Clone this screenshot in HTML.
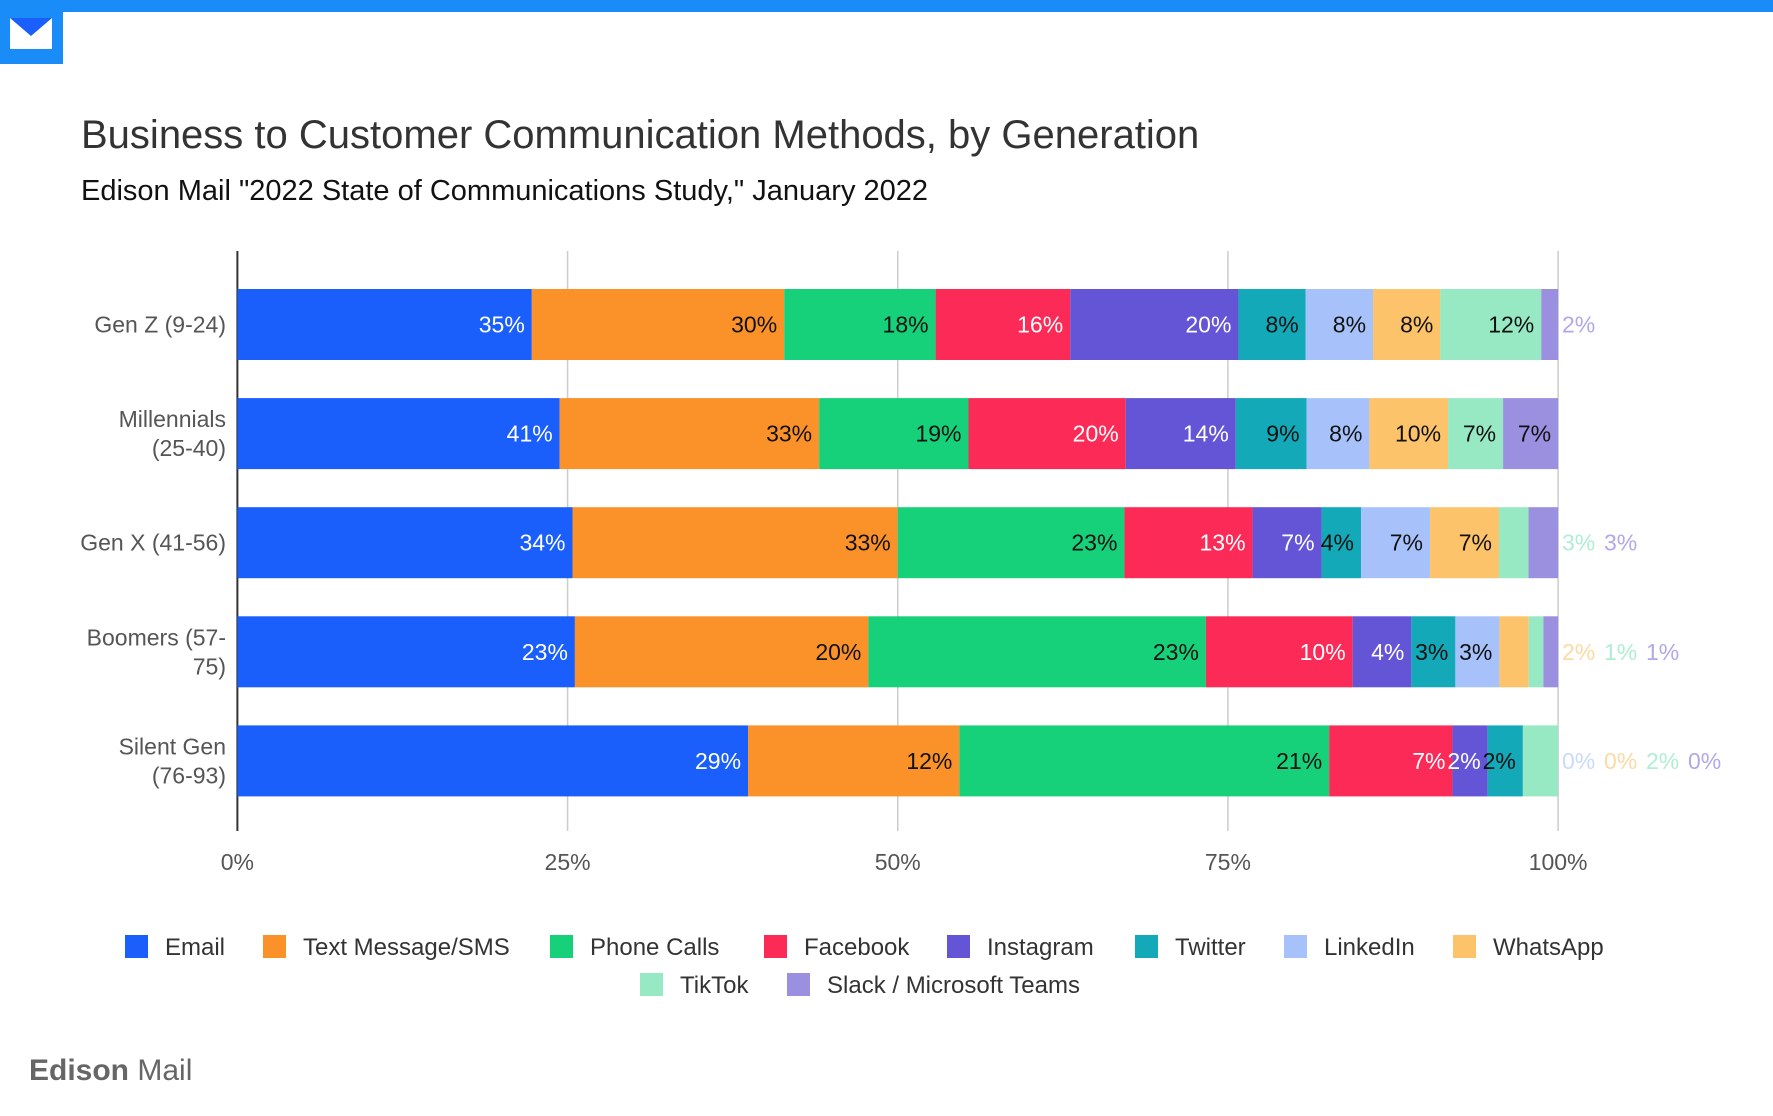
<!DOCTYPE html>
<html><head><meta charset="utf-8"><style>
html,body{margin:0;padding:0;background:#fff;}
svg{display:block;font-family:"Liberation Sans",Arial,sans-serif;}
</style></head><body>
<svg id="chart" width="1773" height="1116" viewBox="0 0 1773 1116">
<rect x="0" y="0" width="1773" height="12" fill="#1a8cf7"/>
<g>
<rect x="0" y="12" width="63" height="52" fill="#1a8cf7"/>
<rect x="10" y="18" width="42" height="31" fill="#fff"/>
<path d="M10 18 L52 18 L31 36 Z" fill="#1a5ffb"/>
</g>
<text x="81" y="148" font-size="40" fill="#333">Business to Customer Communication Methods, by Generation</text>
<text x="81" y="200" font-size="29" fill="#111">Edison Mail "2022 State of Communications Study," January 2022</text>
<g id="grid"></g>
<g id="bars"></g>
<g id="labels"></g>
<g id="legend"></g>
<text x="29" y="1080" font-size="30" fill="#666"><tspan font-weight="bold">Edison</tspan> Mail</text>
</svg>
<script>
const categories = [["Gen Z (9-24)"],["Millennials","(25-40)"],["Gen X (41-56)"],["Boomers (57-","75)"],["Silent Gen","(76-93)"]];
const seriesNames = ["Email","Text Message/SMS","Phone Calls","Facebook","Instagram","Twitter","LinkedIn","WhatsApp","TikTok","Slack / Microsoft Teams"];
const email = [35,41,34,23,29];
const sms = [30,33,33,20,12];
const phone = [18,19,23,23,21];
const facebook = [16,20,13,10,7];
const instagram = [20,14,7,4,2];
const twitter = [8,9,4,3,2];
const linkedin = [8,8,7,3,0];
const whatsapp = [8,10,7,2,0];
const tiktok = [12,7,3,1,2];
const slack = [2,7,3,1,0];
const ticks = ["0%","25%","50%","75%","100%"];
const series = [email,sms,phone,facebook,instagram,twitter,linkedin,whatsapp,tiktok,slack];
const colors = ["#1a5ffb","#fb9229","#16d17a","#fb2a56","#6454d6","#13a9b8","#a7c2fb","#fdc36b","#97e9c4","#9b8fe0"];
const lightColors = ["#8fb0fd","#fcc894","#8ae8bc","#fd94aa","#b1aaea","#89d4dc","#c9dafd","#fdd9a4","#aeeed2","#b0a8e8"];
const labelDark = [false,true,true,false,false,true,true,true,true,true];
const NS="http://www.w3.org/2000/svg";
const X0=237.4, X1=1558.1, PT=251, PB=831;
const xs = f => X0 + f*(X1-X0);
const rowY = i => 324.5 + i*109.1;
const BH=71;
function mk(tag,attrs,parent){const e=document.createElementNS(NS,tag);for(const k in attrs)e.setAttribute(k,attrs[k]);parent.appendChild(e);return e;}
const grid=document.getElementById('grid'),bars=document.getElementById('bars'),labels=document.getElementById('labels'),legend=document.getElementById('legend');
ticks.forEach((t,i)=>{
  const x=xs(i/(ticks.length-1));
  const l=mk('line',{x1:x,x2:x,y1:PT,y2:PB,stroke:i===0?'#333':'#ccc','stroke-width':i===0?2:1.5},grid);
  
  
  const tx=mk('text',{x:x,y:870,'text-anchor':'middle','font-size':23,fill:'#555'},grid);
  tx.textContent=t;
  
  
});
categories.forEach((c,i)=>{
  const cy=rowY(i);
  const t=mk('text',{x:226,'text-anchor':'end','font-size':23,fill:'#555'},labels);
  
  
  c.forEach((line,j)=>{const ts=mk('tspan',{x:226,y:cy+8+(j-(c.length-1)/2)*29},t);ts.textContent=line;});
  const total=series.reduce((s,a)=>s+a[i],0);
  let acc=0, outN=0;
  series.forEach((arr,k)=>{
    const v=arr[i];
    const xa=xs(acc/total), xb=xs((acc+v)/total);
    acc+=v;
    if(v>0){
      const r=mk('rect',{x:xa,y:cy-BH/2,width:Math.max(0,xb-xa),height:BH,fill:colors[k]},bars);
      
      
    }
    const w=xb-xa;
    const t2=mk('text',{'font-size':23},labels);
    
    
    t2.textContent=v+'%';
    if(w>=35 && !(outN>0)){
      t2.setAttribute('x',xb-7);t2.setAttribute('y',cy+8);t2.setAttribute('text-anchor','end');
      t2.setAttribute('fill',labelDark[k]?'#111':'#fff');
    } else {
      t2.setAttribute('x',1562+outN*42);t2.setAttribute('y',cy+8);
      t2.setAttribute('fill',lightColors[k]);
      outN++;
    }
  });
});
const legPos=[[125,947],[263,947],[550,947],[764,947],[947,947],[1135,947],[1284,947],[1453,947],[640,985],[787,985]];
seriesNames.forEach((n,k)=>{
  const g=mk('g',{},legend);
  
  
  mk('rect',{x:legPos[k][0],y:legPos[k][1]-12,width:23,height:23,fill:colors[k]},g);
  const t=mk('text',{x:legPos[k][0]+40,y:legPos[k][1]+8,'font-size':24,fill:'#333'},g);
  t.textContent=n;
});
</script>
</body></html>
